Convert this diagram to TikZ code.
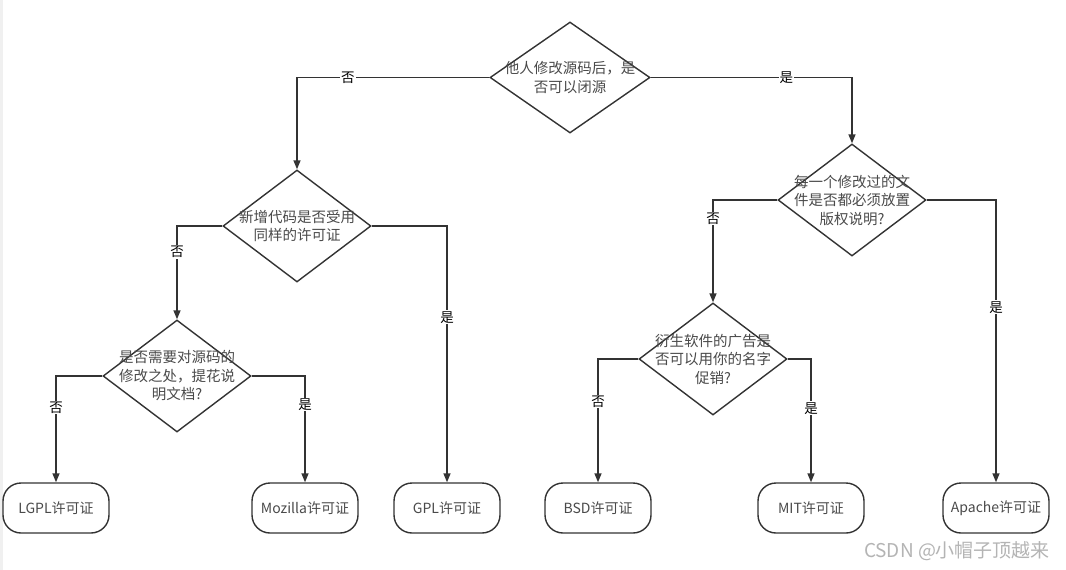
\documentclass[tikz,border=0pt]{standalone}
\usepackage{fontspec}
\setmainfont{Noto Sans CJK SC}
\usetikzlibrary{shapes.geometric,arrows.meta}
\definecolor{ln}{HTML}{333333}
\definecolor{tx}{HTML}{4A4A4A}
\definecolor{wm}{HTML}{B4B4B4}
\begin{document}
\begin{tikzpicture}[x=1pt,y=-1pt,
 dia/.style={diamond,draw=ln,line width=1.4pt,minimum width=148pt,minimum height=112pt,inner sep=0pt},
 dtext/.style={align=center,text=tx,font=\fontsize{14.5}{18.5}\selectfont,inner sep=0pt},
 term/.style={rectangle,rounded corners=18pt,draw=ln,line width=1.4pt,minimum width=106pt,minimum height=50pt,text=tx,font=\fontsize{14}{16}\selectfont},
 arr/.style={draw=ln,line width=1.4pt,-{Triangle[length=9pt,width=7pt]}},
 lab/.style={fill=white,inner sep=1pt,font=\fontsize{13.5}{15}\selectfont,text=black}]
\useasboundingbox (0,0) rectangle (1066,570);
\fill[white] (0,0) rectangle (1066,570);
\fill[black!6] (0,0) rectangle (3,570);

% diamonds
\node[dia,minimum width=160pt,minimum height=111pt] (d1) at (570,77.5) {};
\node[dia] (d2) at (297,226) {};
\node[dia] (d4) at (177,376) {};
\node[dia] (d3) at (852,200) {};
\node[dia] (d5) at (713,359) {};

\node[dtext] (t1) at (d1) {他人修改源码后，是\\否可以闭源};
\node[dtext] (t2) at (d2) {新增代码是否受用\\同样的许可证};
\node[dtext] (t4) at (d4) {是否需要对源码的\\修改之处，提花说\\明文档?};
\node[dtext] (t3) at (d3) {每一个修改过的文\\件是否都必须放置\\版权说明?};
\node[dtext] (t5) at (d5) {衍生软件的广告是\\否可以用你的名字\\促销?};

% terminals
\node[term] (lgpl) at (56,508) {LGPL许可证};
\node[term] (moz) at (305,508) {Mozilla许可证};
\node[term] (gpl) at (447,508) {GPL许可证};
\node[term] (bsd) at (598,508) {BSD许可证};
\node[term] (mit) at (811,508) {MIT许可证};
\node[term] (apache) at (996,508) {Apache许可证};

% connectors
\draw[arr] (d1.west) -| (d2.north) node[lab,pos=0.368] {否};
\draw[arr] (d1.east) -| (d3.north) node[lab,pos=0.337] {是};
\draw[arr] (d2.west) -| (d4.north) node[lab,pos=0.64] {否};
\draw[arr] (d2.east) -| (gpl.north) node[lab,pos=0.678] {是};
\draw[arr] (d4.west) -| (lgpl.north) node[lab,pos=0.648] {否};
\draw[arr] (d4.east) -| (moz.north) node[lab,pos=0.634] {是};
\draw[arr] (d3.west) -| (d5.north) node[lab,pos=0.59] {否};
\draw[arr] (d3.east) -| (apache.north) node[lab,pos=0.69] {是};
\draw[arr] (d5.west) -| (bsd.north) node[lab,pos=0.672] {否};
\draw[arr] (d5.east) -| (mit.north) node[lab,pos=0.70] {是};

% watermark
\node[text=wm,font=\fontsize{19}{21}\selectfont,inner sep=0pt] (mark) at (957,551) {CSDN @小帽子顶越来};
\end{tikzpicture}
\end{document}
